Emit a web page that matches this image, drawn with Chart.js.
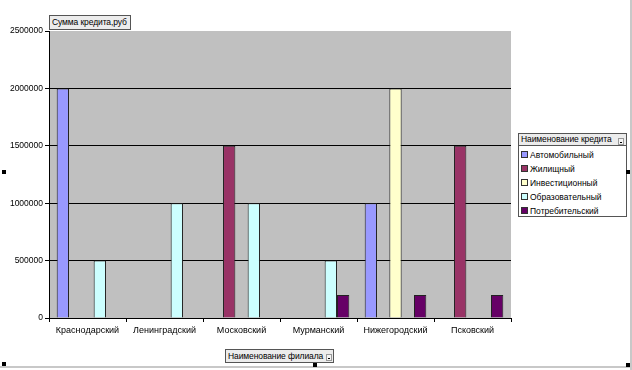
<!DOCTYPE html>
<html><head><meta charset="utf-8">
<script src="https://cdn.jsdelivr.net/npm/chart.js@4"></script>
<style>
html,body{margin:0;padding:0;background:#fff;}
#wrap{position:relative;width:632px;height:370px;overflow:hidden;font-family:"Liberation Sans",Arial,sans-serif;}
canvas{position:absolute;left:0;top:0;}
.btn{position:absolute;background:#ECECEC;border:1px solid #555;font-size:8.5px;letter-spacing:-0.1px;color:#000;line-height:12px;padding:0 2px;box-sizing:border-box;white-space:nowrap;}
.dd{position:absolute;width:6px;height:7px;border:1px solid #999;background:#F4F4F4;box-sizing:border-box;}
.dd:after{content:"";position:absolute;left:1px;top:3px;width:2px;height:1px;background:#000;}
#legend{position:absolute;left:518px;top:133px;width:109px;height:84px;border:1px solid #555;background:#fff;box-sizing:border-box;}
#legend .hdr{position:absolute;left:-1px;top:-1px;width:109px;height:13px;border:1px solid #555;background:#ECECEC;box-sizing:border-box;font-size:8.5px;letter-spacing:-0.1px;line-height:11px;padding-left:2px;white-space:nowrap;}
#legend .item{position:absolute;left:2px;font-size:8.5px;line-height:10px;white-space:nowrap;}
#legend .sw{display:inline-block;width:5px;height:5px;border:1px solid #333;margin-right:2px;vertical-align:0px;}
.h{position:absolute;width:4px;height:4px;background:#000;}
#frameB{position:absolute;left:0;top:366px;width:632px;height:2px;background:#C8C8C8;}
#frameR{position:absolute;left:630px;top:0;width:2px;height:370px;background:#C8C8C8;}
</style></head>
<body>
<div id="wrap">
<canvas id="c" width="632" height="370"></canvas>
<div id="frameB"></div><div id="frameR"></div>
<div class="btn" style="left:49px;top:15px;width:82px;height:15px;line-height:13px;">Сумма кредита,руб</div>
<div class="btn" style="left:225px;top:349px;width:109px;height:14px;">Наименование филиала<span class="dd" style="left:100px;top:4px;"></span></div>
<div id="legend"></div>
<div class="h" style="left:2px;top:170px;"></div>
<div class="h" style="left:626px;top:170px;"></div>
<div class="h" style="left:2px;top:362px;"></div>
<div class="h" style="left:313px;top:363px;"></div>
<div class="h" style="left:626px;top:363px;"></div>
</div>
<script>
const categories = ["Краснодарский","Ленинградский","Московский","Мурманский","Нижегородский","Псковский"];
const seriesNames = ["Автомобильный","Жилищный","Инвестиционный","Образовательный","Потребительский"];
const seriesColors = ["#9999FF","#993366","#FFFFCC","#CCFFFF","#660066"];
const auto   = [2000000, null, null, null, 1000000, null];
const housing= [null, null, 1500000, null, null, 1500000];
const invest = [null, null, null, null, 2000000, null];
const edu    = [500000, 1000000, 1000000, 500000, null, null];
const consumer=[null, null, null, 200000, 200000, 200000];
const yTicks = [0, 500000, 1000000, 1500000, 2000000, 2500000];
const legendTitle = "Наименование кредита";

const values = [auto, housing, invest, edu, consumer];

const bgPlugin = {
  id:'bg',
  beforeDraw(chart){
    const a = chart.chartArea, ctx = chart.ctx;
    ctx.save(); ctx.fillStyle = '#C0C0C0';
    ctx.fillRect(a.left, a.top, a.right-a.left, a.bottom-a.top);
    ctx.restore();
  }
};

new Chart(document.getElementById('c'), {
  type:'bar',
  data:{
    labels: categories,
    datasets: seriesNames.map((n,i)=>({
      label:n, data:values[i], backgroundColor:seriesColors[i],
      borderColor:'#222', borderWidth:1, borderSkipped:'bottom'
    }))
  },
  options:{
    responsive:false, animation:false,
    layout:{padding:{left:0,right:121,top:31,bottom:0}},
    datasets:{bar:{categoryPercentage:0.8,barPercentage:1,grouped:true}},
    plugins:{legend:{display:false},tooltip:{enabled:false}},
    scales:{
      x:{
        grid:{offset:true,drawOnChartArea:false,drawTicks:true,tickLength:4,color:'#000'},
        border:{display:true,color:'#000',width:1},
        ticks:{color:'#000',font:{family:'"Liberation Sans", Arial',size:9},padding:3,maxRotation:0,autoSkip:false},
        afterFit(s){s.height=52;}
      },
      y:{
        min:0,max:2500000,
        afterBuildTicks(s){s.ticks = yTicks.map(v=>({value:v}));},
        grid:{color:(c)=> c.tick && c.tick.value===2500000 ? 'rgba(0,0,0,0)' : '#000', tickColor:'#000', drawTicks:true, tickLength:4, lineWidth:1},
        border:{display:true,color:'#000',width:1},
        ticks:{color:'#000',font:{family:'"Liberation Sans", Arial',size:8.5},padding:2,callback:v=>String(v)},
        afterFit(s){s.width=49;}
      }
    }
  },
  plugins:[bgPlugin]
});

const lg = document.getElementById('legend');
let html = '<div class="hdr">'+legendTitle+'<span class="dd" style="left:99px;top:4px;"></span></div>';
seriesNames.forEach((n,i)=>{
  html += '<div class="item" style="top:'+(16+i*14)+'px"><span class="sw" style="background:'+seriesColors[i]+'"></span>'+n+'</div>';
});
lg.innerHTML = html;
</script>
</body></html>
